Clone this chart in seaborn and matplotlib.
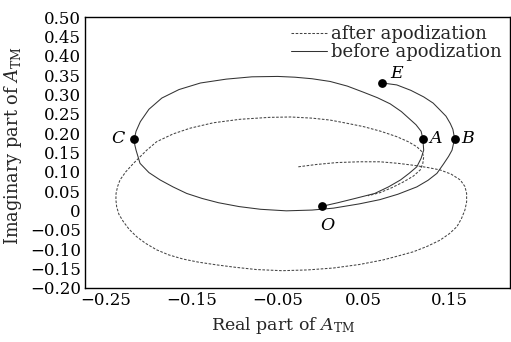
import matplotlib
matplotlib.use("Agg")
import matplotlib.pyplot as plt
import seaborn as sns
import pandas as pd
from matplotlib.ticker import FixedLocator, FixedFormatter

# ---- data ----
before_x = [0.002, 0.020, 0.040, 0.063, 0.079, 0.093, 0.103, 0.112, 0.117, 0.120,
            0.119, 0.117, 0.111, 0.104, 0.094, 0.081, 0.066, 0.050, 0.031, 0.011,
            -0.010, -0.030, -0.050, -0.080, -0.110, -0.140, -0.165, -0.185, -0.200, -0.210,
            -0.215, -0.217, -0.2165, -0.2150, -0.2104, -0.200, -0.187, -0.172, -0.156, -0.138,
            -0.119, -0.095, -0.070, -0.040, -0.010, 0.015, 0.045, 0.069, 0.090, 0.112,
            0.125, 0.1354, 0.143, 0.149, 0.153, 0.156, 0.154, 0.151, 0.146, 0.139,
            0.131, 0.120, 0.105, 0.0887, 0.072]
before_y = [0.011, 0.020, 0.031, 0.044, 0.061, 0.079, 0.096, 0.113, 0.135, 0.156,
            0.186, 0.205, 0.222, 0.236, 0.256, 0.276, 0.292, 0.306, 0.322, 0.334,
            0.341, 0.345, 0.347, 0.346, 0.340, 0.330, 0.313, 0.291, 0.262, 0.230,
            0.205, 0.186, 0.170, 0.156, 0.122, 0.098, 0.079, 0.061, 0.044, 0.031,
            0.020, 0.010, 0.003, -0.001, 0.001, 0.006, 0.017, 0.028, 0.042, 0.061,
            0.078, 0.096, 0.120, 0.140, 0.156, 0.186, 0.210, 0.225, 0.244, 0.260,
            0.278, 0.294, 0.311, 0.325, 0.330]

after_x = [-0.026, -0.005, 0.019, 0.045, 0.069, 0.090, 0.108, 0.125, 0.139, 0.152,
           0.1626, 0.168, 0.170, 0.170, 0.168, 0.164, 0.1587, 0.150, 0.139, 0.124,
           0.108, 0.090, 0.073, 0.045, 0.015, -0.015, -0.045, -0.075, -0.100, -0.121,
           -0.142, -0.160, -0.177, -0.191, -0.204, -0.2143, -0.2230, -0.2298, -0.2350, -0.2376,
           -0.2385, -0.2383, -0.2365, -0.2337, -0.2270, -0.218, -0.2026, -0.191, -0.172, -0.152,
           -0.125, -0.094, -0.060, -0.035, -0.010, 0.011, 0.030, 0.050, 0.070, 0.0887,
           0.102, 0.112, 0.118, 0.120, 0.119, 0.116, 0.108, 0.0965, 0.083, 0.069,
           0.055]
after_y = [0.113, 0.119, 0.124, 0.126, 0.126, 0.122, 0.117, 0.111, 0.105, 0.094,
           0.079, 0.062, 0.044, 0.022, 0.001, -0.021, -0.042, -0.060, -0.077, -0.093,
           -0.107, -0.118, -0.128, -0.140, -0.149, -0.154, -0.156, -0.153, -0.147, -0.141,
           -0.134, -0.126, -0.115, -0.102, -0.085, -0.068, -0.049, -0.029, -0.010, 0.0096,
           0.028, 0.044, 0.062, 0.079, 0.100, 0.122, 0.156, 0.178, 0.198, 0.213,
           0.227, 0.236, 0.241, 0.242, 0.239, 0.234, 0.226, 0.217, 0.205, 0.191,
           0.178, 0.165, 0.152, 0.139, 0.122, 0.105, 0.089, 0.074, 0.059, 0.046,
           0.038]

pt_labels = ["O", "A", "B", "C", "E"]
pt_x = [0.002, 0.119, 0.156, -0.217, 0.071]
pt_y = [0.011, 0.186, 0.186, 0.186, 0.330]

x_ticks = [-0.25, -0.15, -0.05, 0.05, 0.15]
x_tick_labels = ["\u22120.25", "\u22120.15", "\u22120.05", "0.05", "0.15"]
y_ticks = [0.50, 0.45, 0.40, 0.35, 0.30, 0.25, 0.20, 0.15, 0.10, 0.05, 0.0,
           -0.05, -0.10, -0.15, -0.20]
y_tick_labels = ["0.50", "0.45", "0.40", "0.35", "0.30", "0.25", "0.20", "0.15", "0.10",
                 "0.05", "0", "\u22120.05", "\u22120.10", "\u22120.15", "\u22120.20"]

sns.set_style("white")
plt.rcParams["font.family"] = ["DejaVu Serif"]
plt.rcParams["mathtext.fontset"] = "dejavuserif"

fig = plt.figure(figsize=(5.11, 3.42), dpi=100)
ax = fig.add_axes([0.1663, 0.1588, 0.8317, 0.7905])

df_after = pd.DataFrame({"x": after_x, "y": after_y})
df_before = pd.DataFrame({"x": before_x, "y": before_y})
sns.lineplot(data=df_after, x="x", y="y", sort=False, estimator=None, ax=ax,
             color="#444444", lw=0.75, linestyle=(0, (2.5, 1.5)), label="after apodization")
sns.lineplot(data=df_before, x="x", y="y", sort=False, estimator=None, ax=ax,
             color="#333333", lw=0.75, label="before apodization")

ax.scatter(pt_x, pt_y, s=28, color="black", zorder=5)
offsets = {"O": (4, -14, "center", "center"), "A": (5, 0, "left", "center"),
           "B": (5, 0, "left", "center"), "C": (-7, 0, "right", "center"),
           "E": (6, 1, "left", "bottom")}
for lab, px, py in zip(pt_labels, pt_x, pt_y):
    dx, dy, ha, va = offsets[lab]
    ax.annotate(lab, (px, py), xytext=(dx, dy), textcoords="offset points",
                ha=ha, va=va, fontsize=12.5, style="italic", color="black")

ax.set_xlim(-0.2745, 0.2205)
ax.set_ylim(-0.20, 0.50)
ax.xaxis.set_major_locator(FixedLocator(x_ticks))
ax.xaxis.set_major_formatter(FixedFormatter(x_tick_labels))
ax.yaxis.set_major_locator(FixedLocator(y_ticks))
ax.yaxis.set_major_formatter(FixedFormatter(y_tick_labels))
ax.tick_params(direction="in", length=4, width=0.8, labelsize=12, colors="black",
               pad=3)
for s in ax.spines.values():
    s.set_visible(True)
    s.set_color("black")
    s.set_linewidth(1.0)

ax.set_xlabel(r"Real part of $A_{\mathrm{TM}}$", fontsize=12.5)
ax.set_ylabel(r"Imaginary part of $A_{\mathrm{TM}}$", fontsize=12.8)
ax.xaxis.set_label_coords(0.465, -0.10)
ax.yaxis.set_label_coords(-0.143, 0.525)

leg = ax.legend(loc="upper right", frameon=False, fontsize=13, handlelength=2.0,
                handletextpad=0.2, borderaxespad=0.05, labelspacing=0.0)

fig.savefig("out.png", dpi=100)
